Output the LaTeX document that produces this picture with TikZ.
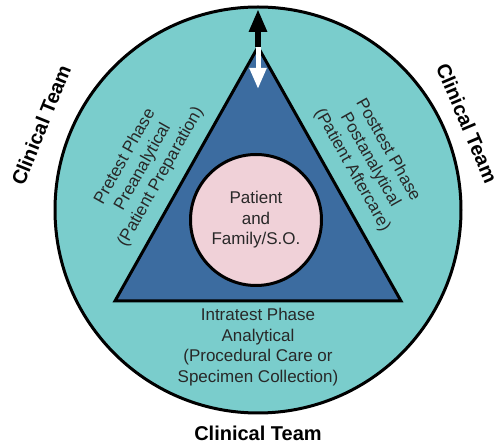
\documentclass[tikz,border=0pt]{standalone}
\usepackage{fontspec}
\setmainfont{Liberation Sans}
\usetikzlibrary{positioning,arrows.meta,shapes.geometric}
\definecolor{teamteal}{RGB}{122,205,204}
\definecolor{phaseblue}{RGB}{60,108,160}
\definecolor{patientpink}{RGB}{240,209,216}
\definecolor{textgray}{RGB}{40,40,40}
\tikzset{
  phase/.style={align=center, text=textgray, font=\fontsize{17}{20.5}\selectfont},
  team/.style={font=\bfseries\fontsize{20}{24}\selectfont},
}

\begin{document}
\begin{tikzpicture}[x=1pt, y=-1pt, line width=3pt]
\useasboundingbox (0,0) rectangle (499,446);

% Outer circle
\node[draw, circle, fill=teamteal,
      minimum size=406pt,
      inner sep=0pt
      ] (care) at (258,210) {};

% Triangle
\coordinate (apex) at (258,47);
\coordinate (baseL) at (115,301);
\coordinate (baseR) at (401,301);
\draw[fill=phaseblue, line join=miter] (apex) -- (baseL) -- (baseR) -- cycle;

% Patient circle
\node[draw, circle, fill=patientpink,
      minimum size=131pt,
      inner sep=0pt,
      phase
      ] (patient) at (256,220) {Patient\\and\\Family/S.O.};

% Phase labels
\node[phase, rotate=60.6] (pretest) at (143,167)
    {Pretest Phase\\Preanalytical\\(Patient Preparation)};
\node[phase, rotate=-60.6] (posttest) at (370,160)
    {Posttest Phase\\Postanalytical\\(Patient Aftercare)};
\node[phase] (intratest) at (258,347)
    {Intratest Phase\\Analytical\\(Procedural Care or\\Specimen Collection)};

% Team labels
\node[team, rotate=68] (teamL) at (41,125) {Clinical Team};
\node[team, rotate=-67] (teamR) at (467,123) {Clinical Team};
\node[team] (teamB) at (258,433) {Clinical Team};

% Arrows at the apex
\coordinate (up) at (258,9);
\coordinate (down) at (258,89);
\draw[white, line width=5pt, -{Triangle[width=16pt,length=21pt]}] (apex) -- (down);
\draw[line width=6pt, -{Triangle[width=17pt,length=23pt]}] (apex) -- (up);

\end{tikzpicture}
\end{document}
